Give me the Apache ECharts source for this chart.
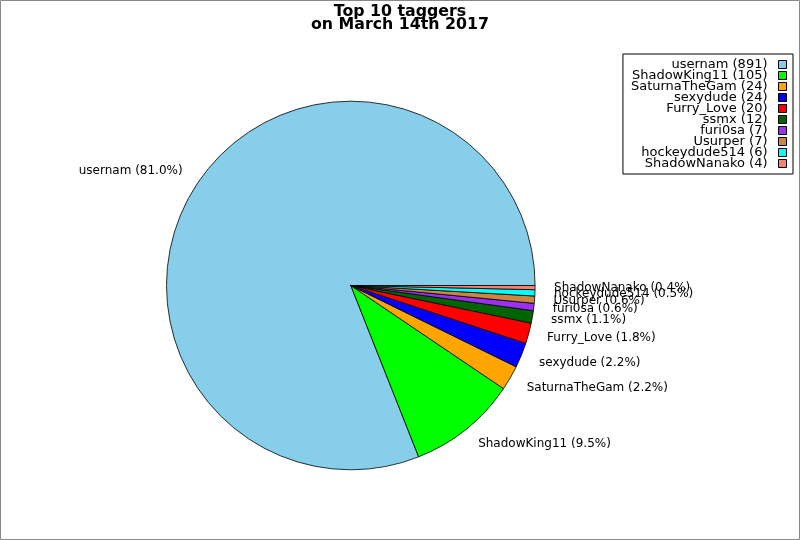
<!DOCTYPE html>
<html>
<head>
<meta charset="utf-8">
<script src="https://cdn.jsdelivr.net/npm/echarts@6/dist/echarts.min.js"></script>
<style>
html,body{margin:0;padding:0;background:#fff;}
#chart{width:800px;height:540px;}
</style>
</head>
<body>
<div id="chart"></div>
<script>
const categories = ['usernam','ShadowKing11','SaturnaTheGam','sexydude','Furry_Love','ssmx','furi0sa','Usurper','hockeydude514','ShadowNanako'];
const counts = [891,105,24,24,20,12,7,7,6,4];
const palette = ['#87CEEB','#00FF00','#FFA500','#0000FF','#FF0000','#006400','#9B30F0','#CD853F','#00FFFF','#FA8072'];

const total = counts.reduce((a,b)=>a+b,0);
const FONT = 'DejaVu Sans';

const chart = echarts.init(document.getElementById('chart'), null, {renderer:'canvas'});
chart.setOption({
  animation:false,
  backgroundColor:'#fff',
  color: palette,
  title:{
    text:'Top 10 taggers\non March 14th 2017',
    left:'center', top:5, padding:0,
    textStyle:{fontFamily:FONT, fontWeight:'bold', fontSize:15.8, lineHeight:13.5, color:'#000'}
  },
  legend:{
    orient:'vertical',
    right:7, top:54,
    align:'right',
    icon:'rect',
    itemWidth:8, itemHeight:8, itemGap:-2,
    padding:[4,6,4,8],
    borderColor:'#000', borderWidth:1,
    selectedMode:false,
    itemStyle:{borderColor:'#000', borderWidth:1},
    textStyle:{fontFamily:FONT, fontSize:13, color:'#000', padding:[0,6,0,0]},
    formatter:function(name){ const i = categories.indexOf(name); return name + ' (' + counts[i] + ')'; },
    data: categories
  },
  graphic:[{
    type:'rect', silent:true, z:100,
    shape:{x:0.5,y:0.5,width:799,height:539},
    style:{fill:'none', stroke:'#888', lineWidth:1}
  }],
  series:[{
    type:'pie',
    center:[350.8,285.5],
    radius:184.3,
    startAngle:0,
    clockwise:false,
    avoidLabelOverlap:false,
    labelLayout:{hideOverlap:false},
    emphasis:{disabled:true},
    itemStyle:{borderColor:'#000', borderWidth:0.8},
    label:{
      show:true, position:'outside',
      fontFamily:FONT, fontSize:12, color:'#000',
      distanceToLabelLine:0,
      formatter:function(p){ return p.name + ' (' + (p.value/total*100).toFixed(1) + '%)'; }
    },
    labelLine:{show:false, length:19, length2:0},
    data: categories.map((c,i)=>({name:c, value:counts[i]}))
  }]
});
</script>
</body>
</html>
